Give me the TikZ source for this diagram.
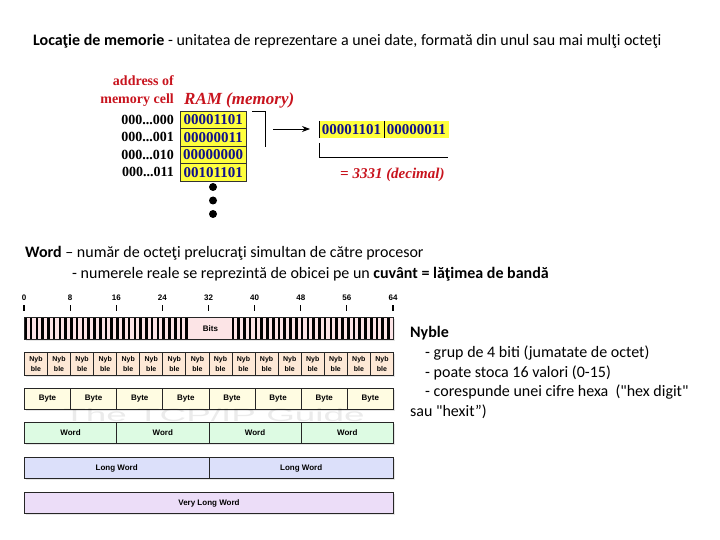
\documentclass[tikz,border=0pt]{standalone}
\usepackage{fontspec}
\setmainfont{Carlito}[Ligatures=TeXOff]
\newfontfamily\serifbits{Liberation Serif}
\newfontfamily\sansbits{Liberation Sans}
\usepackage{tikz}
\usetikzlibrary{arrows.meta, positioning, shadows}
\definecolor{memred}{HTML}{C8141E}
\definecolor{cellyellow}{HTML}{FFFF3C}
\definecolor{bitblue}{HTML}{10108C}
\definecolor{bitsfill}{HTML}{FCE4E6}
\definecolor{nyblefill}{HTML}{FDE8D6}
\definecolor{bytefill}{HTML}{FFFCE2}
\definecolor{wordfill}{HTML}{DDFBE3}
\definecolor{longfill}{HTML}{DCE0FA}
\definecolor{verylongfill}{HTML}{ECDDF8}

\begin{document}
\begin{tikzpicture}[
        x=1pt, y=-1pt,
        bodytext/.style={
            anchor=base west,
            inner sep=0pt,
            font=\fontsize{16}{19}\selectfont
        },
        redlabel/.style={
            inner sep=0pt,
            text=memred,
            font=\serifbits\bfseries\fontsize{14}{14}\selectfont
        },
        addrlabel/.style={
            anchor=east,
            inner sep=0pt,
            font=\serifbits\bfseries\fontsize{14}{14}\selectfont
        },
        memcell/.style={
            draw=black!80,
            fill=cellyellow,
            inner sep=0pt,
            minimum width=66pt,
            minimum height=17.4pt,
            anchor=north west,
            text=bitblue,
            font=\serifbits\bfseries\fontsize{15}{15}\selectfont
        },
        paircell/.style={
            memcell,
            draw=none,
            minimum width=64.5pt,
            minimum height=17pt
        },
        bracket/.style={
            line width=0.8pt
        },
        pointer/.style={
            -{Stealth[length=8pt, width=6pt]},
            line width=0.8pt
        },
        ticklabel/.style={
            inner sep=0pt,
            font=\sansbits\bfseries\fontsize{8}{8}\selectfont
        },
        tickmark/.style={
            line width=1.2pt
        },
        rowcell/.style={
            draw=black!85,
            line width=0.9pt,
            inner sep=0pt,
            anchor=north west,
            align=center,
            font=\sansbits\bfseries\fontsize{8}{8}\selectfont,
            drop shadow={shadow xshift=2pt, shadow yshift=-2pt, opacity=0.2}
        },
        watermark/.style={
            anchor=base,
            inner sep=0pt,
            text=black,
            text opacity=0.08,
            font=\sansbits\fontsize{18}{18}\selectfont
        }
    ]

        \useasboundingbox (0,0) rectangle (720,540);

        % ---------------------------------------------------------------------
        % Heading
        % ---------------------------------------------------------------------

        \node[bodytext] (title) at (33,46) {\textbf{Locaţie de memorie} - unitatea de reprezentare a unei date, formată din unul sau mai mulţi octeţi};


        % ---------------------------------------------------------------------
        % Memory cells and their addresses
        % ---------------------------------------------------------------------

        \node[redlabel, anchor=base east] (addrof) at (174,86) {address of};
        \node[redlabel, anchor=base east] (memcellname) at (174,104) {memory cell};
        \node[
            redlabel,
            anchor=base west,
            font=\serifbits\bfseries\itshape\fontsize{17}{17}\selectfont
        ] (ram) at (184,105) {RAM (memory)};

        \foreach \i/\addr/\val in {0/000/00001101, 1/001/00000011, 2/010/00000000, 3/011/00101101} {
            \node[memcell] (cell\i) at (180,{111+17.4*\i}) {\val};
            \node[addrlabel] (addr\i) at ([xshift=-6pt]cell\i.west) {000...\addr};
        }

        % more cells follow
        \foreach \d in {0,1,2} {
            \fill (213,{187+13.5*\d}) circle (4);
        }

        % the two cells read together
        \draw[bracket] (252,111) -| (265,147);
        \coordinate (ramexit) at (273,129);

        \node[paircell] (pairhigh) at (319,121) {00001101};
        \node[paircell, right=0pt of pairhigh] (pairlow) {00000011};
        \draw (pairhigh.north west) -- (pairhigh.south west);
        \draw (pairhigh.north east) -- (pairhigh.south east);

        \draw[pointer, shorten >=9pt] (ramexit) -- (pairhigh.west |- ramexit);

        \draw[bracket] (319,143) |- (448,157);

        \node[
            redlabel,
            anchor=base west,
            font=\serifbits\bfseries\itshape\fontsize{15}{15}\selectfont
        ] (decimal) at (340,179) {= 3331 (decimal)};


        % ---------------------------------------------------------------------
        % Word
        % ---------------------------------------------------------------------

        \node[bodytext] (wordline) at (25,258) {\textbf{Word} – număr de octeţi prelucraţi simultan de către procesor};
        \node[bodytext] (wordnote) at (72,278) {- numerele reale se reprezintă de obicei pe un \textbf{cuvânt = lăţimea de bandă}};


        % ---------------------------------------------------------------------
        % Bit scale and rows of units
        % ---------------------------------------------------------------------

        \foreach \t [evaluate=\t as \lab using int(8*\t)] in {0,...,8} {
            \node[ticklabel] (tick\t) at ({24+46.125*\t},298) {\lab};
            \draw[tickmark] ({24+46.125*\t},305) -- ++(0,6);
        }

        \node[
            rowcell,
            fill=bitsfill,
            minimum width=369pt,
            minimum height=22pt
        ] (bits) at (24,317) {};
        \foreach \b in {0,...,28,36,37,...,63} {
            \fill ({24+5.766*\b},317) rectangle ++(2.6,22);
        }
        \node[ticklabel] (bitslabel) at ([xshift=1.5pt]bits.center) {Bits};
        \draw[line width=0.9pt, black!85] (bits.north west) rectangle (bits.south east);

        \foreach \n in {0,...,15} {
            \node[
                rowcell,
                fill=nyblefill,
                minimum width=23.06pt,
                minimum height=23pt,
                font=\sansbits\bfseries\fontsize{7}{9.5}\selectfont
            ] (nyble\n) at ({24+23.0625*\n},352) {Nyb\\ble};
        }

        \foreach \n in {0,...,7} {
            \node[
                rowcell,
                fill=bytefill,
                minimum width=46.125pt,
                minimum height=21pt
            ] (byte\n) at ({24+46.125*\n},388) {Byte};
        }

        \node[watermark] (guide) at (214,421.5) {\scalebox{2.05}[1]{The TCP/IP Guide}};

        \foreach \n in {0,...,3} {
            \node[
                rowcell,
                fill=wordfill,
                minimum width=92.25pt,
                minimum height=21pt
            ] (word\n) at ({24+92.25*\n},422) {Word};
        }

        \foreach \n in {0,1} {
            \node[
                rowcell,
                fill=longfill,
                minimum width=184.5pt,
                minimum height=21pt
            ] (longword\n) at ({24+184.5*\n},457) {Long Word};
        }

        \node[
            rowcell,
            fill=verylongfill,
            minimum width=369pt,
            minimum height=21pt
        ] (verylong) at (24,492) {Very Long Word};


        % ---------------------------------------------------------------------
        % Nyble notes
        % ---------------------------------------------------------------------

        \node[bodytext] (nyblehead) at (410,337.5) {\textbf{Nyble}};
        \node[bodytext] (nybleone) at (425,357.5) {- grup de 4 biti (jumatate de octet)};
        \node[bodytext] (nybletwo) at (425,377) {- poate stoca 16 valori (0-15)};
        \node[bodytext] (nyblethree) at (425,396.5) {- corespunde unei cifre hexa\ \ ("hex digit"};
        \node[bodytext] (nyblefour) at (410,416) {sau "hexit”)};

    \end{tikzpicture}
\end{document}
